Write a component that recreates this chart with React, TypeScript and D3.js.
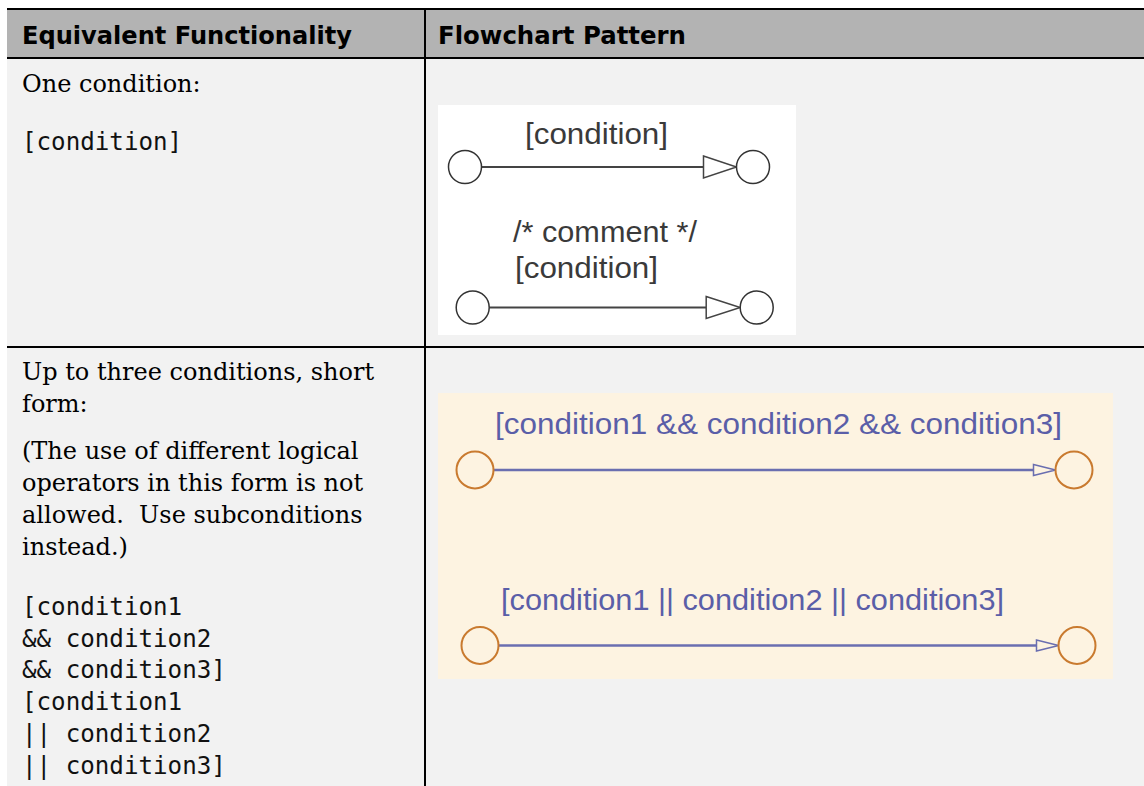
import React from "react";
import * as d3 from "d3";

// table content
const headers = ["Equivalent Functionality", "Flowchart Pattern"];
const oneCondProse = ["One condition:"];
const oneCondCode = ["[condition]"];
const threeCondProse = [
  ["Up to three conditions, short", "form:"],
  [
    "(The use of different logical",
    "operators in this form is not",
    "allowed.  Use subconditions",
    "instead.)",
  ],
];
const threeCondCode = [
  "[condition1",
  "&& condition2",
  "&& condition3]",
  "[condition1",
  "|| condition2",
  "|| condition3]",
];
const plainLabels = [["[condition]"], ["/* comment */", "[condition]"]];
const stateflowLabels = [
  "[condition1 && condition2 && condition3]",
  "[condition1 || condition2 || condition3]",
];

const W = 1144;
const H = 786;
const serif = "'DejaVu Serif', serif";
const mono = "'DejaVu Sans Mono', monospace";
const sans = "'Liberation Sans', Arial, sans-serif";

// one transition: source junction, line, open arrow, target junction
const Transition = ({ x1, x2, y, r, aw, ah, lineColor, lineW, jColor, jW, fill }) => {
  const lineEnd = x2 - r - aw;
  const tri = d3.line()([
    [lineEnd, y - ah / 2],
    [x2 - r, y],
    [lineEnd, y + ah / 2],
  ]) + "Z";
  return (
    <g>
      <line x1={x1 + r} x2={lineEnd} y1={y} y2={y} stroke={lineColor} strokeWidth={lineW} />
      <path d={tri} fill={fill} stroke={lineColor} strokeWidth={1.5} />
      <circle cx={x1} cy={y} r={r} fill={fill} stroke={jColor} strokeWidth={jW} />
      <circle cx={x2} cy={y} r={r} fill={fill} stroke={jColor} strokeWidth={jW} />
    </g>
  );
};

export default function App() {
  const colX = [7, 425];
  const textX = [22, 438];
  const lineH = 32;
  const codeH = 31.7;
  const serifSize = 24;
  const monoSize = 24.2;

  return (
    <svg
      width={W}
      height={H}
      style={{ position: "absolute", left: 0, top: 0, background: "#fff" }}
    >
      {/* backgrounds */}
      <rect x={7} y={10} width={W - 7} height={47} fill="#b3b3b3" />
      <rect x={7} y={59} width={W - 7} height={H - 59} fill="#f2f2f2" />

      {/* header */}
      {headers.map((h, i) => (
        <text
          key={h}
          x={textX[i]}
          y={44}
          fontFamily="'DejaVu Sans', sans-serif"
          fontWeight="bold"
          fontSize={25}
          textLength={i === 0 ? 330 : 248}
          lengthAdjust="spacingAndGlyphs"
          fill="#000"
        >
          {h}
        </text>
      ))}

      {/* row 1, left */}
      {oneCondProse.map((t, i) => (
        <text key={t} x={22} y={92 + i * lineH} fontFamily={serif} fontSize={serifSize} fill="#000">
          {t}
        </text>
      ))}
      {oneCondCode.map((t, i) => (
        <text key={t} x={22} y={150 + i * codeH} fontFamily={mono} fontSize={monoSize} fill="#111">
          {t}
        </text>
      ))}

      {/* row 1, right: plain flowchart picture */}
      <rect x={438} y={105} width={358} height={230} fill="#fff" />
      <g fontFamily={sans} fontSize={30} fill="#3a3a3a">
        <text x={525} y={144} textLength={143} lengthAdjust="spacingAndGlyphs">
          {plainLabels[0][0]}
        </text>
        <text x={513} y={242} textLength={184} lengthAdjust="spacingAndGlyphs">
          {plainLabels[1][0]}
        </text>
        <text x={515} y={278} textLength={143} lengthAdjust="spacingAndGlyphs">
          {plainLabels[1][1]}
        </text>
      </g>
      <Transition x1={465} x2={753} y={167} r={16.5} aw={33} ah={22}
        lineColor="#444" lineW={2} jColor="#333" jW={1.5} fill="#fff" />
      <Transition x1={472.7} x2={756.7} y={307.5} r={16.5} aw={34} ah={22}
        lineColor="#444" lineW={2} jColor="#333" jW={1.5} fill="#fff" />

      {/* row 2, left */}
      {threeCondProse[0].map((t, i) => (
        <text key={t} x={22} y={380 + i * lineH} fontFamily={serif} fontSize={serifSize} fill="#000">
          {t}
        </text>
      ))}
      {threeCondProse[1].map((t, i) => (
        <text key={t} x={22} y={459 + i * lineH} fontFamily={serif} fontSize={serifSize}
          fill="#000" style={{ whiteSpace: "pre" }}>
          {t}
        </text>
      ))}
      {threeCondCode.map((t, i) => (
        <text key={i} x={22} y={615 + i * codeH} fontFamily={mono} fontSize={monoSize} fill="#111">
          {t}
        </text>
      ))}

      {/* row 2, right: stateflow-styled picture */}
      <rect x={438} y={393} width={675} height={286} fill="#fdf3e1" />
      <g fontFamily={sans} fontSize={30} fill="#5a5ea8">
        <text x={495} y={434} textLength={567} lengthAdjust="spacingAndGlyphs">
          {stateflowLabels[0]}
        </text>
        <text x={501} y={610} textLength={503} lengthAdjust="spacingAndGlyphs">
          {stateflowLabels[1]}
        </text>
      </g>
      <Transition x1={475} x2={1074} y={470} r={18.5} aw={22} ah={11}
        lineColor="#6a6eb0" lineW={2.5} jColor="#c97a2f" jW={2} fill="#fdf3e1" />
      <Transition x1={480} x2={1077} y={645.5} r={18.5} aw={22} ah={11}
        lineColor="#6a6eb0" lineW={2.5} jColor="#c97a2f" jW={2} fill="#fdf3e1" />

      {/* rules */}
      <line x1={7} x2={W} y1={9} y2={9} stroke="#000" strokeWidth={2} />
      <line x1={7} x2={W} y1={58} y2={58} stroke="#000" strokeWidth={2} />
      <line x1={7} x2={W} y1={347} y2={347} stroke="#000" strokeWidth={2} />
      <line x1={colX[1]} x2={colX[1]} y1={8} y2={H} stroke="#000" strokeWidth={2} />
    </svg>
  );
}
